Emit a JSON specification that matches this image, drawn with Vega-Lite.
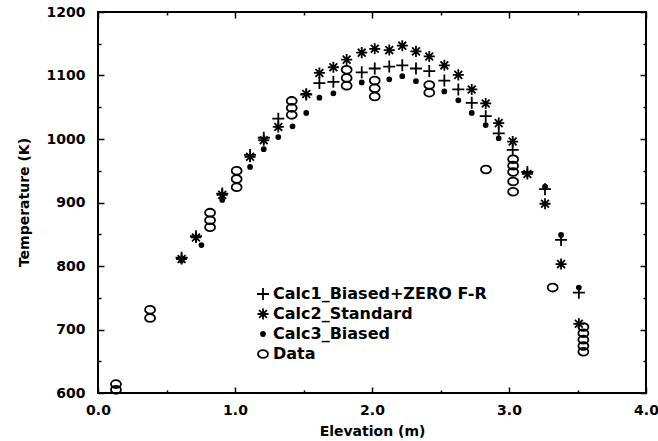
{
  "$schema": "https://vega.github.io/schema/vega-lite/v6.json",
  "width": 548,
  "height": 381,
  "autosize": "none",
  "padding": {"left": 98, "top": 12, "right": 12, "bottom": 48},
  "background": "white",
  "config": {
    "view": {"stroke": "black", "strokeWidth": 2},
    "axis": {
      "domain": false, "grid": false, "ticks": true, "tickColor": "black", "tickWidth": 1.5,
      "labelFont": "DejaVu Sans", "labelFontWeight": "bold", "labelFontSize": 14, "labelColor": "black",
      "labelFlush": false, "labelOverlap": false, "labelBound": false,
      "titleFont": "DejaVu Sans", "titleFontWeight": "bold", "titleFontSize": 14, "titleColor": "black"
    },
    "legend": {
      "orient": "none", "legendX": 157, "legendY": 274,
      "labelFont": "DejaVu Sans", "labelFontWeight": "bold", "labelFontSize": 16, "labelColor": "black", "labelLimit": 400,
      "symbolStrokeColor": "black", "symbolStrokeWidth": 1.8, "symbolSize": 144, "rowPadding": 0, "labelOffset": 2, "padding": 0,
      "gridAlign": "all"
    }
  },
  "data": {
    "values": [
      {"series": "Calc1_Biased+ZERO F-R", "elevation": 0.61, "temperature": 813},
      {"series": "Calc1_Biased+ZERO F-R", "elevation": 0.715, "temperature": 847},
      {"series": "Calc1_Biased+ZERO F-R", "elevation": 0.907, "temperature": 914},
      {"series": "Calc1_Biased+ZERO F-R", "elevation": 1.11, "temperature": 975},
      {"series": "Calc1_Biased+ZERO F-R", "elevation": 1.21, "temperature": 1002},
      {"series": "Calc1_Biased+ZERO F-R", "elevation": 1.316, "temperature": 1032},
      {"series": "Calc1_Biased+ZERO F-R", "elevation": 1.52, "temperature": 1070},
      {"series": "Calc1_Biased+ZERO F-R", "elevation": 1.616, "temperature": 1088},
      {"series": "Calc1_Biased+ZERO F-R", "elevation": 1.718, "temperature": 1090},
      {"series": "Calc1_Biased+ZERO F-R", "elevation": 1.925, "temperature": 1105},
      {"series": "Calc1_Biased+ZERO F-R", "elevation": 2.02, "temperature": 1111},
      {"series": "Calc1_Biased+ZERO F-R", "elevation": 2.126, "temperature": 1114},
      {"series": "Calc1_Biased+ZERO F-R", "elevation": 2.221, "temperature": 1116},
      {"series": "Calc1_Biased+ZERO F-R", "elevation": 2.321, "temperature": 1111},
      {"series": "Calc1_Biased+ZERO F-R", "elevation": 2.418, "temperature": 1107},
      {"series": "Calc1_Biased+ZERO F-R", "elevation": 2.528, "temperature": 1092},
      {"series": "Calc1_Biased+ZERO F-R", "elevation": 2.63, "temperature": 1078},
      {"series": "Calc1_Biased+ZERO F-R", "elevation": 2.728, "temperature": 1057},
      {"series": "Calc1_Biased+ZERO F-R", "elevation": 2.83, "temperature": 1036},
      {"series": "Calc1_Biased+ZERO F-R", "elevation": 2.925, "temperature": 1009},
      {"series": "Calc1_Biased+ZERO F-R", "elevation": 3.027, "temperature": 983},
      {"series": "Calc1_Biased+ZERO F-R", "elevation": 3.134, "temperature": 948},
      {"series": "Calc1_Biased+ZERO F-R", "elevation": 3.263, "temperature": 921},
      {"series": "Calc1_Biased+ZERO F-R", "elevation": 3.38, "temperature": 841},
      {"series": "Calc1_Biased+ZERO F-R", "elevation": 3.51, "temperature": 758},
      {"series": "Calc2_Standard", "elevation": 0.61, "temperature": 811},
      {"series": "Calc2_Standard", "elevation": 0.715, "temperature": 845},
      {"series": "Calc2_Standard", "elevation": 0.907, "temperature": 912},
      {"series": "Calc2_Standard", "elevation": 1.11, "temperature": 972},
      {"series": "Calc2_Standard", "elevation": 1.21, "temperature": 998},
      {"series": "Calc2_Standard", "elevation": 1.316, "temperature": 1019},
      {"series": "Calc2_Standard", "elevation": 1.52, "temperature": 1071},
      {"series": "Calc2_Standard", "elevation": 1.616, "temperature": 1104},
      {"series": "Calc2_Standard", "elevation": 1.718, "temperature": 1113},
      {"series": "Calc2_Standard", "elevation": 1.815, "temperature": 1125},
      {"series": "Calc2_Standard", "elevation": 1.925, "temperature": 1136},
      {"series": "Calc2_Standard", "elevation": 2.02, "temperature": 1142},
      {"series": "Calc2_Standard", "elevation": 2.126, "temperature": 1140},
      {"series": "Calc2_Standard", "elevation": 2.221, "temperature": 1147},
      {"series": "Calc2_Standard", "elevation": 2.321, "temperature": 1138},
      {"series": "Calc2_Standard", "elevation": 2.418, "temperature": 1130},
      {"series": "Calc2_Standard", "elevation": 2.528, "temperature": 1116},
      {"series": "Calc2_Standard", "elevation": 2.63, "temperature": 1101},
      {"series": "Calc2_Standard", "elevation": 2.728, "temperature": 1078},
      {"series": "Calc2_Standard", "elevation": 2.83, "temperature": 1056},
      {"series": "Calc2_Standard", "elevation": 2.925, "temperature": 1025},
      {"series": "Calc2_Standard", "elevation": 3.027, "temperature": 996},
      {"series": "Calc2_Standard", "elevation": 3.134, "temperature": 945},
      {"series": "Calc2_Standard", "elevation": 3.263, "temperature": 898},
      {"series": "Calc2_Standard", "elevation": 3.38, "temperature": 803},
      {"series": "Calc2_Standard", "elevation": 3.51, "temperature": 709},
      {"series": "Calc3_Biased", "elevation": 0.61, "temperature": 809},
      {"series": "Calc3_Biased", "elevation": 0.755, "temperature": 833},
      {"series": "Calc3_Biased", "elevation": 0.907, "temperature": 904},
      {"series": "Calc3_Biased", "elevation": 1.11, "temperature": 956},
      {"series": "Calc3_Biased", "elevation": 1.21, "temperature": 984},
      {"series": "Calc3_Biased", "elevation": 1.316, "temperature": 1003},
      {"series": "Calc3_Biased", "elevation": 1.42, "temperature": 1020},
      {"series": "Calc3_Biased", "elevation": 1.52, "temperature": 1041},
      {"series": "Calc3_Biased", "elevation": 1.616, "temperature": 1065},
      {"series": "Calc3_Biased", "elevation": 1.718, "temperature": 1072},
      {"series": "Calc3_Biased", "elevation": 1.925, "temperature": 1089},
      {"series": "Calc3_Biased", "elevation": 2.126, "temperature": 1094},
      {"series": "Calc3_Biased", "elevation": 2.221, "temperature": 1099},
      {"series": "Calc3_Biased", "elevation": 2.321, "temperature": 1091},
      {"series": "Calc3_Biased", "elevation": 2.528, "temperature": 1075},
      {"series": "Calc3_Biased", "elevation": 2.63, "temperature": 1061},
      {"series": "Calc3_Biased", "elevation": 2.728, "temperature": 1041},
      {"series": "Calc3_Biased", "elevation": 2.83, "temperature": 1022},
      {"series": "Calc3_Biased", "elevation": 2.925, "temperature": 1001},
      {"series": "Calc3_Biased", "elevation": 3.263, "temperature": 925},
      {"series": "Calc3_Biased", "elevation": 3.38, "temperature": 849},
      {"series": "Calc3_Biased", "elevation": 3.51, "temperature": 766},
      {"series": "Data", "elevation": 0.131, "temperature": 614},
      {"series": "Data", "elevation": 0.131, "temperature": 605},
      {"series": "Data", "elevation": 0.38, "temperature": 731},
      {"series": "Data", "elevation": 0.38, "temperature": 718},
      {"series": "Data", "elevation": 0.818, "temperature": 884},
      {"series": "Data", "elevation": 0.818, "temperature": 872},
      {"series": "Data", "elevation": 0.818, "temperature": 861},
      {"series": "Data", "elevation": 1.012, "temperature": 950},
      {"series": "Data", "elevation": 1.012, "temperature": 937},
      {"series": "Data", "elevation": 1.012, "temperature": 924},
      {"series": "Data", "elevation": 1.414, "temperature": 1060},
      {"series": "Data", "elevation": 1.414, "temperature": 1049},
      {"series": "Data", "elevation": 1.414, "temperature": 1038},
      {"series": "Data", "elevation": 1.815, "temperature": 1109},
      {"series": "Data", "elevation": 1.815, "temperature": 1096},
      {"series": "Data", "elevation": 1.815, "temperature": 1084},
      {"series": "Data", "elevation": 2.02, "temperature": 1092},
      {"series": "Data", "elevation": 2.02, "temperature": 1080},
      {"series": "Data", "elevation": 2.02, "temperature": 1067},
      {"series": "Data", "elevation": 2.418, "temperature": 1085},
      {"series": "Data", "elevation": 2.418, "temperature": 1073},
      {"series": "Data", "elevation": 2.832, "temperature": 952},
      {"series": "Data", "elevation": 3.03, "temperature": 968},
      {"series": "Data", "elevation": 3.03, "temperature": 958},
      {"series": "Data", "elevation": 3.03, "temperature": 948},
      {"series": "Data", "elevation": 3.03, "temperature": 933},
      {"series": "Data", "elevation": 3.03, "temperature": 917},
      {"series": "Data", "elevation": 3.319, "temperature": 766},
      {"series": "Data", "elevation": 3.543, "temperature": 704},
      {"series": "Data", "elevation": 3.543, "temperature": 694},
      {"series": "Data", "elevation": 3.543, "temperature": 684},
      {"series": "Data", "elevation": 3.543, "temperature": 674},
      {"series": "Data", "elevation": 3.543, "temperature": 665}
    ]
  },
  "layer": [
    {
      "transform": [{"filter": "datum.series === 'Calc1_Biased+ZERO F-R'"}],
      "mark": {"type": "point", "strokeWidth": 1.8, "opacity": 1, "size": 144},
      "encoding": {
        "x": {"field": "elevation", "type": "quantitative", "scale": {"domain": [0, 4], "nice": false, "zero": false},
              "axis": {"orient": "bottom", "values": [0, 1, 2, 3, 4], "format": ".1f", "tickSize": -6, "labelPadding": 16,
                       "title": "Elevation (m)", "titleX": 274, "titleY": 38, "titleBaseline": "middle"}},
        "y": {"field": "temperature", "type": "quantitative", "scale": {"domain": [600, 1200], "nice": false, "zero": false},
              "axis": {"orient": "left", "values": [600, 700, 800, 900, 1000, 1100, 1200], "format": "d", "tickSize": -6, "labelPadding": 19,
                       "title": "Temperature (K)", "titleX": -74, "titleY": 190, "titleBaseline": "middle", "titleAngle": -90}},
        "shape": {"field": "series", "type": "nominal",
                  "scale": {"domain": ["Calc1_Biased+ZERO F-R", "Calc2_Standard", "Calc3_Biased", "Data"],
                            "range": ["M-1,0H1M0,-1V1", "M-0.92,0H0.92M0,-0.92V0.92M-0.65,-0.65L0.65,0.65M-0.65,0.65L0.65,-0.65", "M-0.33,0A0.33,0.33 0 1,1 0.33,0A0.33,0.33 0 1,1 -0.33,0Z", "M-0.83,0A0.83,0.65 0 1,1 0.83,0A0.83,0.65 0 1,1 -0.83,0Z"]},
                  "legend": {"title": null, "orient": "none", "legendX": 157, "legendY": 274, "symbolSize": 144, "symbolStrokeWidth": 1.8}},
        "fill": {"field": "series", "type": "nominal",
                 "scale": {"domain": ["Calc1_Biased+ZERO F-R", "Calc2_Standard", "Calc3_Biased", "Data"],
                           "range": ["transparent", "transparent", "black", "transparent"]},
                 "legend": {"title": null, "orient": "none", "legendX": 157, "legendY": 274, "symbolSize": 144, "symbolStrokeWidth": 1.8}},
        "stroke": {"field": "series", "type": "nominal",
                   "scale": {"domain": ["Calc1_Biased+ZERO F-R", "Calc2_Standard", "Calc3_Biased", "Data"],
                             "range": ["black", "black", "black", "black"]},
                   "legend": {"title": null, "orient": "none", "legendX": 157, "legendY": 274, "symbolSize": 144, "symbolStrokeWidth": 1.8}}
      }
    },
    {
      "transform": [{"filter": "datum.series === 'Calc2_Standard'"}],
      "mark": {"type": "point", "strokeWidth": 1.8, "opacity": 1, "size": 144},
      "encoding": {
        "x": {"field": "elevation", "type": "quantitative",
              "axis": {"orient": "top", "values": [0, 1, 2, 3, 4], "tickSize": -6, "labels": false, "title": null}},
        "y": {"field": "temperature", "type": "quantitative",
              "axis": {"orient": "right", "values": [600, 700, 800, 900, 1000, 1100, 1200], "tickSize": -6, "labels": false, "title": null}},
        "shape": {"field": "series", "type": "nominal"},
        "fill": {"field": "series", "type": "nominal"},
        "stroke": {"field": "series", "type": "nominal"}
      }
    },
    {
      "transform": [{"filter": "datum.series === 'Calc3_Biased'"}],
      "mark": {"type": "point", "strokeWidth": 1.8, "opacity": 1, "size": 144},
      "encoding": {
        "x": {"field": "elevation", "type": "quantitative",
              "axis": {"orient": "bottom", "values": [0.5, 1.5, 2.5, 3.5], "tickSize": -3, "labels": false, "title": null}},
        "y": {"field": "temperature", "type": "quantitative",
              "axis": {"orient": "left", "values": [650, 750, 850, 950, 1050, 1150], "tickSize": -3, "labels": false, "title": null}},
        "shape": {"field": "series", "type": "nominal"},
        "fill": {"field": "series", "type": "nominal"},
        "stroke": {"field": "series", "type": "nominal"}
      }
    },
    {
      "transform": [{"filter": "datum.series === 'Data'"}],
      "mark": {"type": "point", "strokeWidth": 1.8, "opacity": 1, "size": 144},
      "encoding": {
        "x": {"field": "elevation", "type": "quantitative",
              "axis": {"orient": "top", "values": [0.5, 1.5, 2.5, 3.5], "tickSize": -3, "labels": false, "title": null}},
        "y": {"field": "temperature", "type": "quantitative",
              "axis": {"orient": "right", "values": [650, 750, 850, 950, 1050, 1150], "tickSize": -3, "labels": false, "title": null}},
        "shape": {"field": "series", "type": "nominal"},
        "fill": {"field": "series", "type": "nominal"},
        "stroke": {"field": "series", "type": "nominal"}
      }
    }
  ],
  "resolve": {"axis": {"x": "independent", "y": "independent"}}
}
